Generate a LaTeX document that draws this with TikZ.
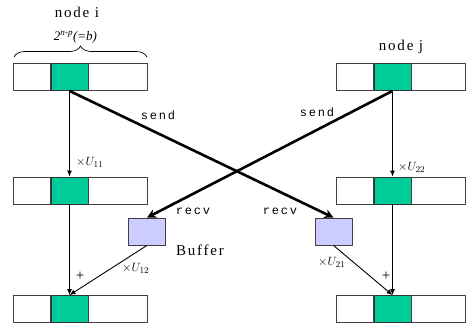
\documentclass[tikz,border=0pt]{standalone}
\usepackage{fontspec}
\setmainfont{Liberation Serif}
\setmonofont{Liberation Mono}
\usetikzlibrary{arrows.meta,decorations.pathreplacing}
\definecolor{keygreen}{HTML}{00CC99}
\definecolor{buflilac}{HTML}{CCCCFF}
\definecolor{edgegray}{HTML}{404040}
\tikzset{
  cell/.style={draw=edgegray, minimum height=27pt, inner sep=0pt, line width=0.8pt},
  key/.style={cell, fill=keygreen, draw=black!80, minimum width=37pt},
  buffer/.style={draw=edgegray, fill=buflilac, minimum width=37pt, minimum height=27pt, inner sep=0pt, line width=0.8pt},
  flow/.style={line width=0.9pt, -{Latex[length=6pt,width=5pt]}},
  sendline/.style={line width=2.6pt, -{Stealth[length=9pt,width=9pt]}},
  lbl/.style={font=\fontsize{12}{13}\selectfont\ttfamily\addfontfeatures{LetterSpace=15}},
  title/.style={font=\fontsize{15}{17}\selectfont\addfontfeatures{LetterSpace=12}},
  factor/.style={font=\fontsize{13}{14}\selectfont, inner sep=0pt},
  plus/.style={font=\fontsize{15}{16}\selectfont, inner sep=0pt}
}
\begin{document}
\begin{tikzpicture}[x=1pt,y=-1pt]
                \useasboundingbox (0,0) rectangle (466,327);
                % node i, three steps
                \node[key] (i1) at (69.5,77) {};
                \node[key] (i2) at (69.5,190.5) {};
                \node[key] (i3) at (69.5,309) {};
                \node[cell, minimum width=37pt, anchor=east] (i1l) at (i1.west) {};
                \node[cell, minimum width=59pt, anchor=west] (i1r) at (i1.east) {};
                \node[cell, minimum width=37pt, anchor=east] (i2l) at (i2.west) {};
                \node[cell, minimum width=59pt, anchor=west] (i2r) at (i2.east) {};
                \node[cell, minimum width=37pt, anchor=east] (i3l) at (i3.west) {};
                \node[cell, minimum width=59pt, anchor=west] (i3r) at (i3.east) {};
                % node j, three steps
                \node[key] (j1) at (392.5,77) {};
                \node[key] (j2) at (392.5,190.5) {};
                \node[key] (j3) at (392.5,309) {};
                \node[cell, minimum width=37pt, anchor=east] (j1l) at (j1.west) {};
                \node[cell, minimum width=54pt, anchor=west] (j1r) at (j1.east) {};
                \node[cell, minimum width=37pt, anchor=east] (j2l) at (j2.west) {};
                \node[cell, minimum width=54pt, anchor=west] (j2r) at (j2.east) {};
                \node[cell, minimum width=37pt, anchor=east] (j3l) at (j3.west) {};
                \node[cell, minimum width=54pt, anchor=west] (j3r) at (j3.east) {};
                % buffers
                \node[buffer] (bi) at (147,231.5) {};
                \node[buffer] (bj) at (333.5,231.5) {};
                \node[title] (buf) at (200,250) {Buffer};

                % headers
                \node[title] (ni) at (77,12) {node i};
                \node[title] (nj) at (401,47) {node j};
                \node (sz) at (75.5,37) {\fontsize{13}{15}\selectfont\itshape 2\textsuperscript{n-p}(=b)};
                \draw[decorate, decoration={brace, amplitude=11pt}, line width=0.7pt]
                    (14,57) -- (147,57);

                % local update
                \draw[flow] (i1.south) -- (i2.north);
                \draw[flow] (i2.south) -- (i3.north);
                \draw[flow] (j1.south) -- (j2.north);
                \draw[flow] (j2.south) -- (j3.north);
                \node[factor, anchor=west] (u11) at (76,162) {$\times U_{11}$};
                \node[factor, anchor=west] (u22) at (398,167) {$\times U_{22}$};
                \node[plus] (pi) at (80,276) {+};
                \node[plus] (pj) at (386,276) {+};

                % exchange
                \draw[sendline] (i1.south) -- (bj.north);
                \draw[sendline] (j1.south) -- (bi.north);
                \node[lbl] (si) at (158,115) {send};
                \node[lbl] (sj) at (317,112) {send};
                \node[lbl] (ri) at (193,211) {recv};
                \node[lbl] (rj) at (280,211) {recv};

                % buffered part
                \draw[flow] (bi.south) -- (i3.north);
                \draw[flow] (bj.south) -- (j3.north);
                \node[factor, anchor=west] (u12) at (122,268) {$\times U_{12}$};
                \node[factor, anchor=west] (u21) at (318,262) {$\times U_{21}$};
            \end{tikzpicture}
\end{document}
